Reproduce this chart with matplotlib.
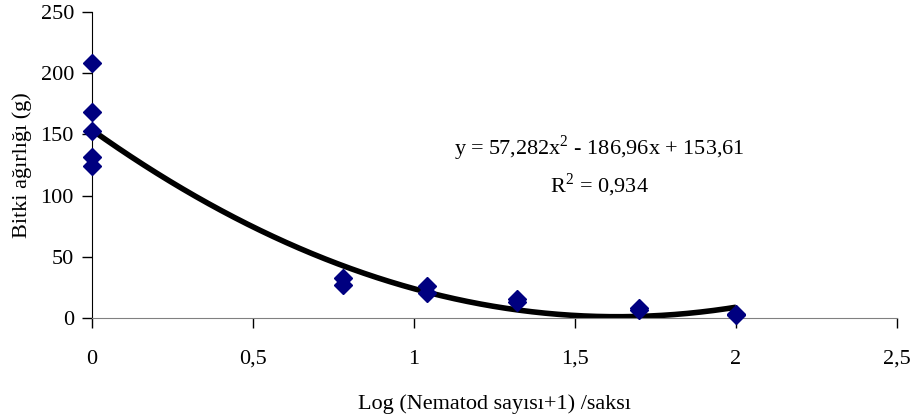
import numpy as np
import matplotlib.pyplot as plt

plt.rcParams['font.family'] = ['Liberation Serif', 'DejaVu Serif']
plt.rcParams['mathtext.fontset'] = 'custom'
plt.rcParams['mathtext.rm'] = 'Liberation Serif'

# Observed points (log nematode count vs plant weight)
log_nematod = [0, 0, 0, 0, 0,
               0.78, 0.78,
               1.04, 1.04,
               1.32, 1.32,
               1.70, 1.70,
               2.0, 2.0]
bitki_agirligi = [208, 168, 152.5, 131.5, 124,
                  32.5, 27,
                  26, 20.5,
                  15.5, 13,
                  8.5, 6.5,
                  3, 2.5]

# Fitted polynomial trendline
coef = [57.282, -186.96, 153.61]
fit_range = (0, 2)

fig = plt.figure(figsize=(9.13, 4.18), dpi=100)
ax = fig.add_axes([92 / 913, 100 / 418, 805 / 913, 306 / 418])

xs = np.linspace(fit_range[0], fit_range[1], 200)
ax.plot(xs, np.polyval(coef, xs), color='black', lw=4, zorder=2, solid_capstyle='butt')
ax.plot(log_nematod, bitki_agirligi, linestyle='none', marker='D', ms=9,
        color='#000080', zorder=3, clip_on=False)

ax.set_xlim(0, 2.5)
ax.set_ylim(0, 250)
ax.set_xticks([0, 0.5, 1, 1.5, 2, 2.5])
ax.set_xticklabels(['0', '0,5', '1', '1,5', '2', '2,5'])
ax.set_yticks([0, 50, 100, 150, 200, 250])

for side in ['top', 'right']:
    ax.spines[side].set_visible(False)
ax.spines['left'].set_color('black')
ax.spines['bottom'].set_color('#808080')
ax.tick_params(axis='both', labelsize=16, length=7, width=1, direction='out')
ax.tick_params(axis='x', pad=16, color='black')
ax.tick_params(axis='y', pad=6)

ax.set_xlabel('Log (Nematod sayısı+1) /saksı', fontsize=16, labelpad=18)
ax.set_ylabel('Bitki ağırlığı (g)', fontsize=16, labelpad=6)

ax.text(1.575, 124, 'y = 57,282x$^\\mathregular{2}$ - 186,96x + 153,61\nR$^\\mathregular{2}$ = 0,934',
        ha='center', va='center', fontsize=16, linespacing=1.45)

fig.savefig('out.png', dpi=100)
